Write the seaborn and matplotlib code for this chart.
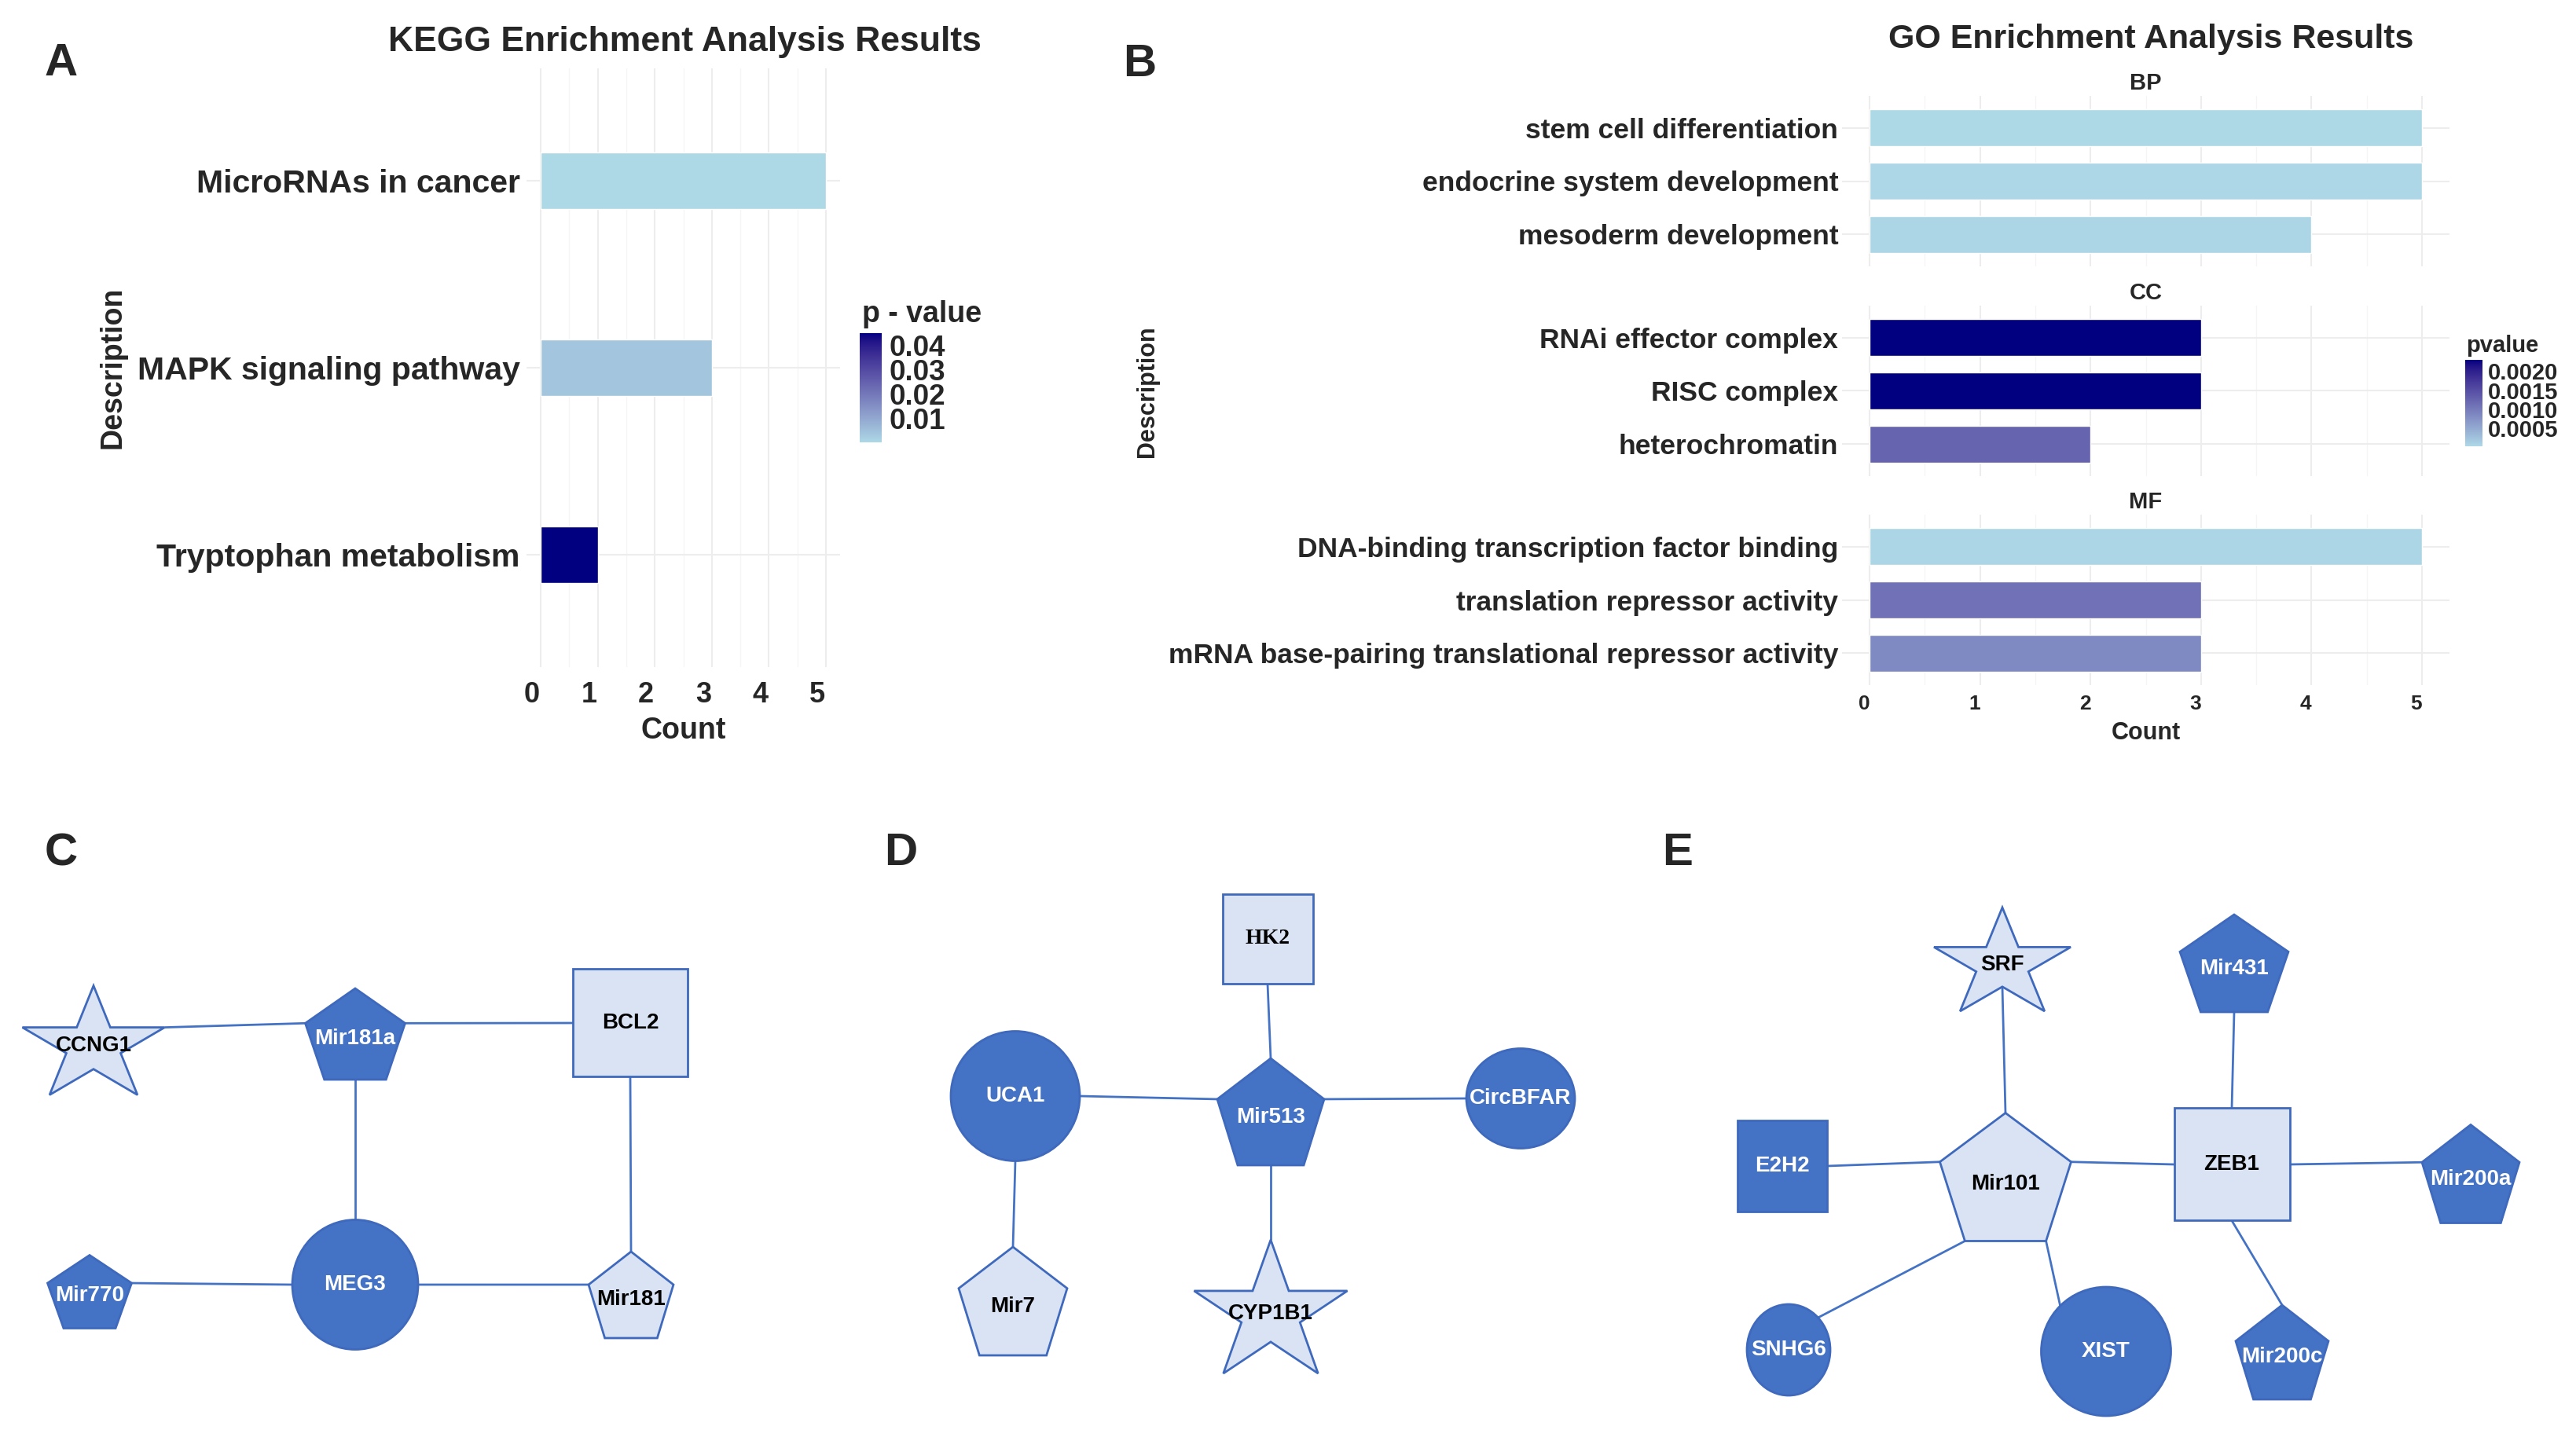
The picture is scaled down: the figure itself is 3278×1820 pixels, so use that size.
import numpy as np
import pandas as pd
import matplotlib
matplotlib.use("Agg")
import matplotlib.pyplot as plt
import seaborn as sns
from matplotlib.colors import ListedColormap, Normalize, to_rgb
from matplotlib.cm import ScalarMappable
from matplotlib.patches import Ellipse, Polygon, Rectangle
from matplotlib.ticker import FormatStrFormatter
from matplotlib.transforms import ScaledTranslation

# ---------------- data ----------------
kegg_terms = ["MicroRNAs in cancer", "MAPK signaling pathway", "Tryptophan metabolism"]
kegg_counts = [5, 3, 1]
kegg_pvalues = [0.0003, 0.0039, 0.045]

go_ontology = ["BP", "BP", "BP", "CC", "CC", "CC", "MF", "MF", "MF"]
go_terms = ["stem cell differentiation", "endocrine system development", "mesoderm development",
            "RNAi effector complex", "RISC complex", "heterochromatin",
            "DNA-binding transcription factor binding", "translation repressor activity",
            "mRNA base-pairing translational repressor activity"]
go_counts = [5, 5, 4, 3, 3, 2, 5, 3, 3]
go_pvalues = [0.00002, 0.00003, 0.00005, 0.0023, 0.0023, 0.00125, 0.00004, 0.0011, 0.00083]

count_ticks = [0, 1, 2, 3, 4, 5]
kegg_cbar_ticks = [0.01, 0.02, 0.03, 0.04]
go_cbar_ticks = [0.0005, 0.0010, 0.0015, 0.0020]

# networks
net_c_nodes = ["CCNG1", "Mir181a", "BCL2", "Mir770", "MEG3", "Mir181"]
net_c_shapes = ["star", "pentagon", "square", "pentagon", "ellipse", "pentagon"]
net_c_groups = ["light", "dark", "light", "dark", "dark", "light"]
net_c_edges = [("CCNG1", "Mir181a"), ("Mir181a", "BCL2"), ("Mir181a", "MEG3"),
               ("BCL2", "Mir181"), ("Mir770", "MEG3"), ("MEG3", "Mir181")]

net_d_nodes = ["HK2", "UCA1", "Mir513", "CircBFAR", "Mir7", "CYP1B1"]
net_d_shapes = ["square", "ellipse", "pentagon", "ellipse", "pentagon", "star"]
net_d_groups = ["light", "dark", "dark", "dark", "light", "light"]
net_d_edges = [("HK2", "Mir513"), ("UCA1", "Mir513"), ("Mir513", "CircBFAR"),
               ("UCA1", "Mir7"), ("Mir513", "CYP1B1")]

net_e_nodes = ["SRF", "Mir431", "E2H2", "Mir101", "ZEB1", "Mir200a", "SNHG6", "XIST", "Mir200c"]
net_e_shapes = ["star", "pentagon", "square", "pentagon", "square", "pentagon", "ellipse", "ellipse", "pentagon"]
net_e_groups = ["light", "dark", "dark", "light", "light", "dark", "dark", "dark", "dark"]
net_e_edges = [("SRF", "Mir101"), ("E2H2", "Mir101"), ("Mir101", "ZEB1"), ("Mir431", "ZEB1"),
               ("ZEB1", "Mir200a"), ("Mir101", "SNHG6"), ("Mir101", "XIST"), ("ZEB1", "Mir200c")]

# ---------------- layout (figure pixels) ----------------
W, H, DPI = 3278, 1820, 100
NODE_BOX = {  # cx, cy, w, h of each node's bounding box
    "CCNG1": (119, 1324, 181, 139), "Mir181a": (452, 1316, 127, 116),
    "BCL2": (802, 1302, 146, 137), "Mir770": (114, 1644, 107, 93),
    "MEG3": (452, 1635, 160, 165), "Mir181": (803, 1648, 108, 110),
    "HK2": (1613, 1195, 115, 114), "UCA1": (1292, 1395, 164, 165),
    "Mir513": (1617, 1415, 136, 136), "CircBFAR": (1935, 1398, 138, 127),
    "Mir7": (1289, 1656, 138, 138), "CYP1B1": (1617, 1663, 195, 170),
    "SRF": (2548, 1221, 174, 132), "Mir431": (2843, 1226, 138, 124),
    "E2H2": (2268, 1484, 114, 116), "Mir101": (2552, 1498, 167, 163),
    "ZEB1": (2840, 1482, 147, 143), "Mir200a": (3144, 1494, 124, 125),
    "SNHG6": (2276, 1718, 106, 116), "XIST": (2680, 1720, 165, 164),
    "Mir200c": (2904, 1721, 118, 120),
}
NODE_FONT = {"HK2": ["Liberation Serif", "DejaVu Serif"]}
DARK, LIGHT, NODE_EC, EDGE_C = "#4472C4", "#DAE3F3", "#3E69BC", "#4472C4"

sns.set_style("white")
plt.rcParams["font.family"] = ["Liberation Sans", "DejaVu Sans"]
plt.rcParams["font.weight"] = "bold"
plt.rcParams["axes.labelweight"] = "bold"
plt.rcParams["axes.titleweight"] = "bold"


# ---- ggplot-like Lab gradient lightblue -> navy ----
_M = np.array([[0.4124, 0.3576, 0.1805], [0.2126, 0.7152, 0.0722], [0.0193, 0.1192, 0.9505]])
_WHITE = np.array([0.95047, 1.0, 1.08883])


def srgb_to_lab(c):
    c = np.asarray(c, float)
    lin = np.where(c <= 0.04045, c / 12.92, ((c + 0.055) / 1.055) ** 2.4)
    r = (_M @ lin) / _WHITE
    d = 6 / 29
    f = np.where(r > d ** 3, np.cbrt(r), r / (3 * d * d) + 4 / 29)
    return np.array([116 * f[1] - 16, 500 * (f[0] - f[1]), 200 * (f[1] - f[2])])


def lab_to_srgb(lab):
    L, a, b = lab
    fy = (L + 16) / 116
    fx, fz = fy + a / 500, fy - b / 200
    d = 6 / 29
    finv = lambda t: t ** 3 if t > d else 3 * d * d * (t - 4 / 29)
    xyz = np.array([finv(fx), finv(fy), finv(fz)]) * _WHITE
    lin = np.clip(np.linalg.inv(_M) @ xyz, 0, 1)
    c = np.where(lin <= 0.0031308, 12.92 * lin, 1.055 * lin ** (1 / 2.4) - 0.055)
    return np.clip(c, 0, 1)


lab_lo, lab_hi = srgb_to_lab(to_rgb("lightblue")), srgb_to_lab(to_rgb("navy"))
cmap = ListedColormap([lab_to_srgb(lab_lo + t * (lab_hi - lab_lo)) for t in np.linspace(0, 1, 256)])


def rect(x, y, w, h):
    return [x / W, 1 - (y + h) / H, w / W, h / H]


fig = plt.figure(figsize=(W / DPI, H / DPI), dpi=DPI)


def gg_style(ax, ytick_size, ypad, xtick_size, xpad, xlab_shift, show_x=True):
    ax.set_xlim(-0.25, 5.25)
    ax.set_ylim(2.6, -0.6)
    ax.set_xticks(count_ticks)
    ax.set_xticks(np.arange(0.5, 5.5, 1), minor=True)
    ax.set_facecolor("none")
    ax.set_axisbelow(True)
    ax.grid(True, which="major", color="#EDEDED", lw=1.5)
    ax.grid(True, which="minor", axis="x", color="#F5F5F5", lw=1.0)
    for s in ax.spines.values():
        s.set_visible(False)
    ax.tick_params(which="both", length=0)
    ax.tick_params(axis="y", labelsize=ytick_size, pad=ypad)
    ax.tick_params(axis="x", labelsize=xtick_size, pad=xpad, labelbottom=show_x)
    off = ScaledTranslation(xlab_shift / DPI, 0, fig.dpi_scale_trans)
    for lab in ax.get_xticklabels():
        lab.set_transform(lab.get_transform() + off)
    ax.set_xlabel("")
    ax.set_ylabel("")


# ---------------- Panel A ----------------
dfA = pd.DataFrame({"Description": kegg_terms, "Count": kegg_counts, "pvalue": kegg_pvalues})
normA = Normalize(min(kegg_pvalues), max(kegg_pvalues))
A_LEFT, A_W = 670, 399
axA = fig.add_axes(rect(A_LEFT, 87, A_W, 762))
sns.barplot(data=dfA, x="Count", y="Description", hue="pvalue", palette=cmap, hue_norm=normA,
            dodge=False, width=0.3, saturation=1, legend=False, orient="y", ax=axA)
gg_style(axA, 29.5, 6, 26, 13, -11)
axA.set_xlabel("Count", fontsize=27, labelpad=7)
axA.set_ylabel("Description", fontsize=27)
axA.yaxis.set_label_coords((143 - A_LEFT) / A_W, 0.5)
axA.yaxis.label.set_va("center")

caxA = fig.add_axes(rect(1094, 424, 28, 139))
cbA = fig.colorbar(ScalarMappable(normA, cmap), cax=caxA, ticks=kegg_cbar_ticks)
cbA.outline.set_visible(False)
caxA.yaxis.set_major_formatter(FormatStrFormatter("%.2f"))
caxA.tick_params(direction="in", left=True, right=True, labelleft=False, labelright=True,
                 color="white", length=5, width=1, labelsize=26.5, pad=7)

fig.text(871 / W, 1 - 54 / H, "KEGG Enrichment Analysis Results", ha="center", va="center", fontsize=32)
fig.text(1097 / W, 1 - 400 / H, "p - value", ha="left", va="center", fontsize=27)

# ---------------- Panel B ----------------
dfB = pd.DataFrame({"ONTOLOGY": go_ontology, "Description": go_terms, "Count": go_counts, "pvalue": go_pvalues})
normB = Normalize(min(go_pvalues), max(go_pvalues))
B_LEFT, B_W = 2344, 773
facet_tops = {"BP": 122, "CC": 389, "MF": 655}
onts = list(dict.fromkeys(go_ontology))
for i, ont in enumerate(onts):
    sub = dfB[dfB["ONTOLOGY"] == ont]
    ax = fig.add_axes(rect(B_LEFT, facet_tops[ont], B_W, 217))
    sns.barplot(data=sub, x="Count", y="Description", hue="pvalue", palette=cmap, hue_norm=normB,
                dodge=False, width=0.7, saturation=1, legend=False, orient="y", ax=ax)
    last = i == len(onts) - 1
    gg_style(ax, 25.5, 3.5, 19, 8.5, -7, show_x=last)
    ax.set_title(ont, fontsize=21, pad=6)
    if last:
        ax.set_xlabel("Count", fontsize=22, labelpad=7)

caxB = fig.add_axes(rect(3137, 458, 22, 110))
cbB = fig.colorbar(ScalarMappable(normB, cmap), cax=caxB, ticks=go_cbar_ticks)
cbB.outline.set_visible(False)
caxB.yaxis.set_major_formatter(FormatStrFormatter("%.4f"))
caxB.tick_params(direction="in", left=True, right=True, labelleft=False, labelright=True,
                 color="white", length=4, width=1, labelsize=21, pad=5)

fig.text(2737 / W, 1 - 50 / H, "GO Enrichment Analysis Results", ha="center", va="center", fontsize=31)
fig.text(3138 / W, 1 - 440 / H, "pvalue", ha="left", va="center", fontsize=21)
fig.text(1460 / W, 1 - 498 / H, "Description", ha="center", va="center", rotation=90, fontsize=22)

# ---------------- Networks C, D, E ----------------
NET_TOP = 980
axN = fig.add_axes([0, 0, 1, (H - NET_TOP) / H])
axN.set_xlim(0, W)
axN.set_ylim(H, NET_TOP)
axN.axis("off")


def node_geometry(shape, cx, cy, w, h):
    """Return patch, label centre and connection points (like a drawing tool's connectors)."""
    if shape == "ellipse":
        ports = [(cx + w / 2 * np.cos(a), cy - h / 2 * np.sin(a)) for a in np.deg2rad(np.arange(0, 360, 45))]
        return Ellipse((cx, cy), w, h), (cx, cy), ports
    if shape == "square":
        ports = [(cx - w / 2, cy), (cx + w / 2, cy), (cx, cy - h / 2), (cx, cy + h / 2)]
        return Rectangle((cx - w / 2, cy - h / 2), w, h), (cx, cy), ports
    ry = h / (1 + np.cos(np.pi / 5))
    rx = w / (2 * np.cos(np.pi / 10))
    cyc = cy - h / 2 + ry
    pts = []
    for k in range(5):
        a = np.deg2rad(90 + 72 * k)
        pts.append((cx + rx * np.cos(a), cyc - ry * np.sin(a)))
        if shape == "star":
            r = 0.382
            a2 = a + np.deg2rad(36)
            pts.append((cx + r * rx * np.cos(a2), cyc - r * ry * np.sin(a2)))
    ports = list(pts)
    if shape == "pentagon":
        ports.append((cx, cyc + ry * np.cos(np.pi / 5)))
    return Polygon(pts, closed=True), (cx, cyc), ports


def pick_port(ports, ctr, target):
    """Connection point whose direction from the node centre best matches the direction to target."""
    want = np.arctan2(target[1] - ctr[1], target[0] - ctr[0])
    ang = np.arctan2(ports[:, 1] - ctr[1], ports[:, 0] - ctr[0])
    diff = np.abs(np.angle(np.exp(1j * (ang - want))))
    return ports[np.argmin(diff)]


def draw_network(nodes, shapes, groups, edges):
    ports, ctrs = {}, {}
    for name, shp, grp in zip(nodes, shapes, groups):
        patch, ctr, prt = node_geometry(shp, *NODE_BOX[name])
        ports[name], ctrs[name] = np.array(prt), np.array(ctr)
        patch.set_facecolor(DARK if grp == "dark" else LIGHT)
        patch.set_edgecolor(NODE_EC)
        patch.set_linewidth(2.0)
        patch.set_zorder(2)
        axN.add_patch(patch)
        axN.text(ctr[0], ctr[1], name, ha="center", va="center", fontsize=20, zorder=3,
                 color="white" if grp == "dark" else "black",
                 family=NODE_FONT.get(name, ["Liberation Sans", "DejaVu Sans"]))
    for a, b in edges:
        pa = pick_port(ports[a], ctrs[a], ctrs[b])
        pb = pick_port(ports[b], ctrs[b], ctrs[a])
        axN.plot([pa[0], pb[0]], [pa[1], pb[1]], color=EDGE_C, lw=2.0, zorder=1,
                 solid_capstyle="butt")


draw_network(net_c_nodes, net_c_shapes, net_c_groups, net_c_edges)
draw_network(net_d_nodes, net_d_shapes, net_d_groups, net_d_edges)
draw_network(net_e_nodes, net_e_shapes, net_e_groups, net_e_edges)

# ---------------- panel letters ----------------
for letter, (x, y) in zip("ABCDE", [(78, 81), (1450, 82), (78, 1086), (1146, 1086), (2135, 1086)]):
    fig.text(x / W, 1 - y / H, letter, ha="center", va="center", fontsize=42)

fig.savefig("out.png", dpi=DPI)
